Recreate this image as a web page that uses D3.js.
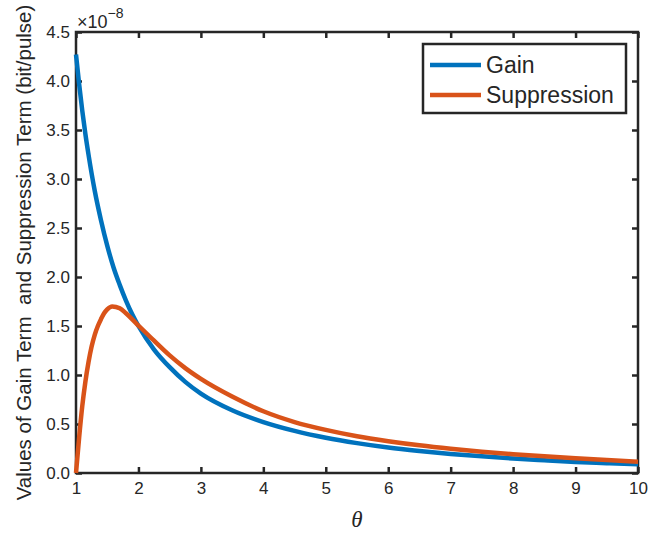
<!DOCTYPE html>
<html>
<head>
<meta charset="utf-8">
<script src="https://d3js.org/d3.v7.min.js"></script>
<style>
  body { margin: 0; background: #fff; }
  text { font-family: "Liberation Sans", Arial, sans-serif; fill: #262626; }
</style>
</head>
<body>
<svg id="chart" width="672" height="533"></svg>
<script>
  // values (units of 1e-8 bit/pulse)
  var gainTheta = [1, 1.05, 1.1, 1.15, 1.2, 1.3, 1.4, 1.5, 1.6, 1.7, 1.8, 1.9, 2.0, 2.25, 2.5, 2.75, 3, 3.5, 4, 4.5, 5, 5.5, 6, 6.5, 7, 7.5, 8, 8.5, 9, 9.5, 10];
  var gainValues = [4.27, 3.97, 3.70, 3.46, 3.25, 2.88, 2.58, 2.32, 2.10, 1.92, 1.76, 1.62, 1.50, 1.26, 1.08, 0.93, 0.81, 0.64, 0.52, 0.43, 0.36, 0.305, 0.26, 0.225, 0.195, 0.17, 0.148, 0.13, 0.113, 0.10, 0.088];
  var suppTheta = [1, 1.05, 1.1, 1.15, 1.2, 1.25, 1.3, 1.35, 1.4, 1.45, 1.5, 1.58, 1.7, 1.8, 1.96, 2.25, 2.5, 2.75, 3, 3.5, 4, 4.5, 5, 5.5, 6, 6.5, 7, 7.5, 8, 8.5, 9, 9.5, 10];
  var suppValues = [0, 0.36, 0.68, 0.93, 1.13, 1.29, 1.41, 1.50, 1.57, 1.63, 1.67, 1.70, 1.68, 1.63, 1.53, 1.35, 1.20, 1.07, 0.96, 0.78, 0.63, 0.52, 0.44, 0.375, 0.325, 0.283, 0.248, 0.218, 0.192, 0.17, 0.15, 0.132, 0.116];
  var xTicks = [1, 2, 3, 4, 5, 6, 7, 8, 9, 10];
  var yTicks = [0, 0.5, 1, 1.5, 2, 2.5, 3, 3.5, 4, 4.5];
  var seriesNames = ["Gain", "Suppression"];
  var seriesColors = ["#0072BD", "#D95319"];

  var svg = d3.select("#chart");
  var m = { left: 76, right: 638, top: 32, bottom: 473 };

  var x = d3.scaleLinear().domain([1, 10]).range([m.left, m.right]);
  var y = d3.scaleLinear().domain([0, 4.5]).range([m.bottom, m.top]);

  // axes (ticks point inward, like matlab)
  var xAxis = svg.append("g").attr("transform", "translate(0," + m.bottom + ")")
    .call(d3.axisBottom(x).tickValues(xTicks).tickSize(-6).tickSizeOuter(0).tickPadding(9).tickFormat(d3.format("d")));
  var yAxis = svg.append("g").attr("transform", "translate(" + m.left + ",0)")
    .call(d3.axisLeft(y).tickValues(yTicks).tickSize(-6).tickSizeOuter(0).tickPadding(6).tickFormat(d3.format(".1f")));
  var xTop = svg.append("g").attr("transform", "translate(0," + m.top + ")")
    .call(d3.axisTop(x).tickValues(xTicks).tickSize(-6).tickSizeOuter(0).tickFormat(""));
  var yRight = svg.append("g").attr("transform", "translate(" + m.right + ",0)")
    .call(d3.axisRight(y).tickValues(yTicks).tickSize(-6).tickSizeOuter(0).tickFormat(""));

  [xAxis, yAxis, xTop, yRight].forEach(function(a) {
    a.attr("font-size", 17).attr("font-family", '"Liberation Sans", Arial, sans-serif');
    a.select(".domain").remove();
    a.selectAll(".tick line").attr("stroke", "#262626").attr("stroke-width", 2.5);
    a.selectAll(".tick text").attr("fill", "#262626");
  });

  svg.append("rect").attr("x", m.left).attr("y", m.top)
    .attr("width", m.right - m.left).attr("height", m.bottom - m.top)
    .attr("fill", "none").attr("stroke", "#262626").attr("stroke-width", 2.5);

  // exponent label
  var expo = svg.append("text").attr("x", m.left + 1).attr("y", 28).attr("font-size", 18);
  expo.append("tspan").text("\u00d710");
  expo.append("tspan").attr("dy", -10).attr("font-size", 14).text("\u22128");

  // lines
  var line = d3.line().curve(d3.curveMonotoneX);
  var series = [
    { pts: gainTheta.map(function(t, i) { return [x(t), y(gainValues[i])]; }) },
    { pts: suppTheta.map(function(t, i) { return [x(t), y(suppValues[i])]; }) }
  ];
  series.forEach(function(s, i) {
    svg.append("path").attr("d", line(s.pts))
      .attr("fill", "none").attr("stroke", seriesColors[i]).attr("stroke-width", 4.5)
      .attr("stroke-linejoin", "round");
  });

  // axis labels
  svg.append("text").attr("x", (m.left + m.right) / 2).attr("y", 527)
    .attr("text-anchor", "middle").attr("font-size", 23)
    .style("font-family", '"Liberation Serif", "Times New Roman", serif').style("font-style", "italic")
    .text("\u03b8");
  svg.append("text").attr("transform", "translate(31," + ((m.top + m.bottom) / 2) + ") rotate(-90)")
    .attr("text-anchor", "middle").attr("font-size", 20.5)
    .style("white-space", "pre")
    .text("Values of Gain Term  and Suppression Term (bit/pulse)");

  // legend
  var lg = svg.append("g").attr("transform", "translate(423,44)");
  lg.append("rect").attr("width", 203).attr("height", 69)
    .attr("fill", "#fff").attr("stroke", "#262626").attr("stroke-width", 2.5);
  seriesNames.forEach(function(n, i) {
    var yy = 21 + i * 30;
    lg.append("line").attr("x1", 7).attr("x2", 58).attr("y1", yy).attr("y2", yy)
      .attr("stroke", seriesColors[i]).attr("stroke-width", 4.5);
    lg.append("text").attr("x", 63).attr("y", yy + 8).attr("font-size", 23).attr("fill", "#000").text(n);
  });
</script>
</body>
</html>
